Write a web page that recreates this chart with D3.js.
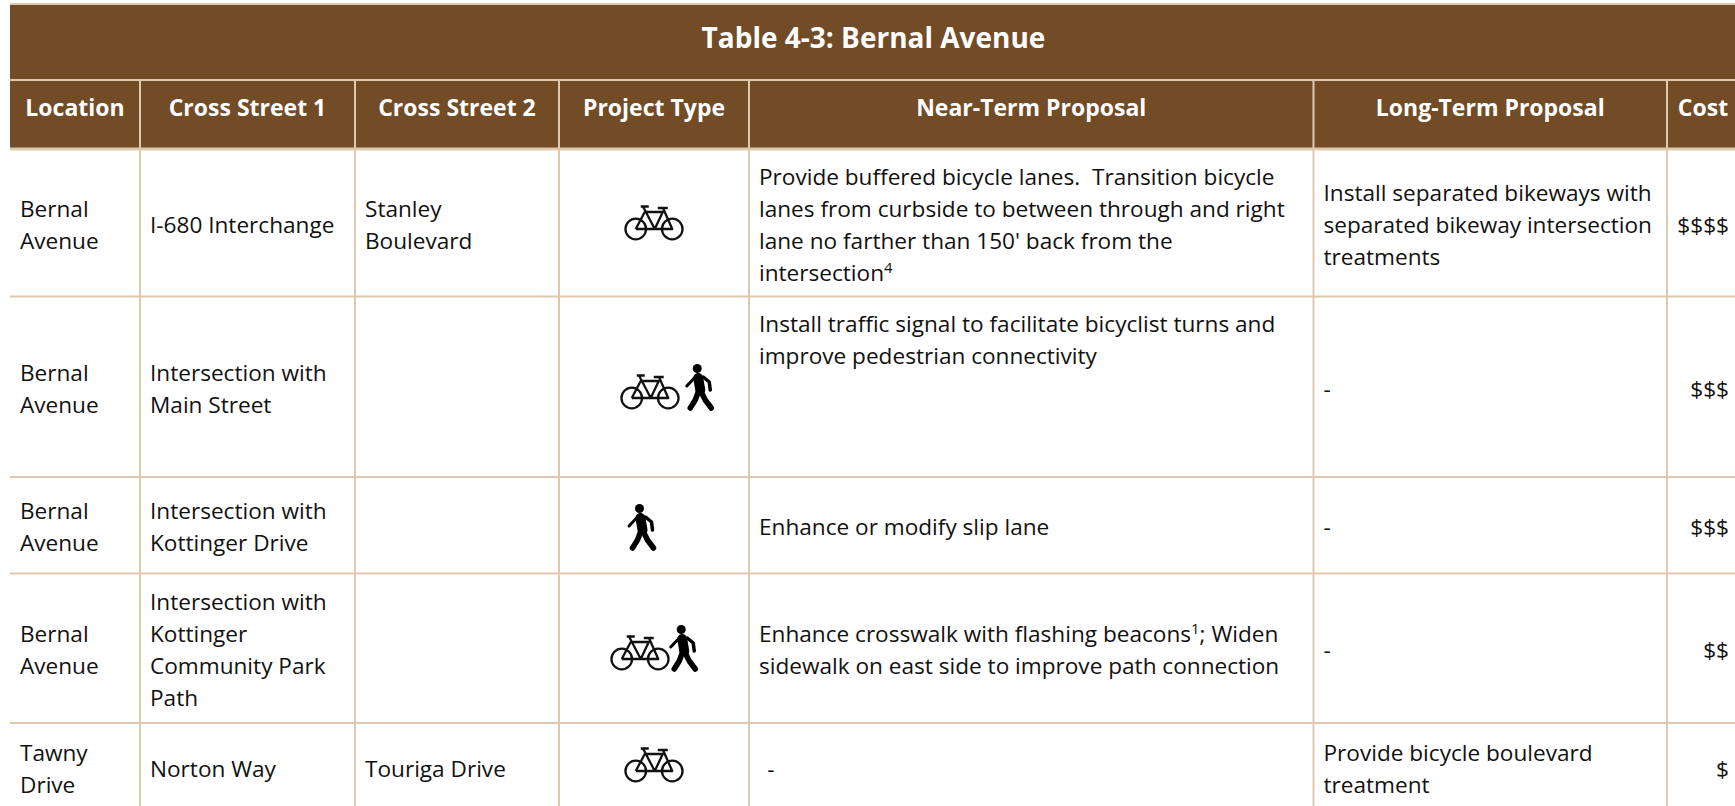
<!DOCTYPE html>
<html>
<head>
<meta charset="utf-8">
<script src="https://d3js.org/d3.v7.min.js"></script>
<style>
  html, body { margin: 0; padding: 0; background: #fff; overflow: hidden; }
  text { font-family: "Open Sans", "Noto Sans", sans-serif; }
</style>
</head>
<body>
<div id="chart"></div>
<script>
const title = 'Table 4-3: Bernal Avenue';
const headers = ['Location', 'Cross Street 1', 'Cross Street 2', 'Project Type', 'Near-Term Proposal', 'Long-Term Proposal', 'Cost'];

// one entry per row, \n = line break, ^n = superscript
const locations = ['Bernal\nAvenue', 'Bernal\nAvenue', 'Bernal\nAvenue', 'Bernal\nAvenue', 'Tawny\nDrive'];
const crossStreet1 = ['I-680 Interchange', 'Intersection with\nMain Street', 'Intersection with\nKottinger Drive', 'Intersection with\nKottinger\nCommunity Park\nPath', 'Norton Way'];
const crossStreet2 = ['Stanley\nBoulevard', '', '', '', 'Touriga Drive'];
const projectTypes = [['bike'], ['bike', 'ped'], ['ped'], ['bike', 'ped'], ['bike']];
const nearTerm = [
  "Provide buffered bicycle lanes.  Transition bicycle\nlanes from curbside to between through and right\nlane no farther than 150' back from the\nintersection^4",
  'Install traffic signal to facilitate bicyclist turns and\nimprove pedestrian connectivity',
  'Enhance or modify slip lane',
  'Enhance crosswalk with flashing beacons^1; Widen\nsidewalk on east side to improve path connection',
  '\u00a0\u200a-'
];
const longTerm = ['Install separated bikeways with\nseparated bikeway intersection\ntreatments', '-', '-', '-', 'Provide bicycle boulevard\ntreatment'];
const costs = ['$$$$', '$$$', '$$$', '$$', '$'];

// layout
const W = 1735, H = 806;
const colEdges = [10, 140, 355, 559, 749, 1313.5, 1667, 1739];
const rowEdges = [149, 296.5, 477, 573.5, 723, 810];
const titleTop = 4, titleBottom = 80;
const brown = '#724b27', rule = '#dfc9ae', ink = '#111';
const bodySize = 22.6, lineH = 32, padX = 10;
// icon group placement per row: horizontal shift from the column centre, bottom edge
const iconShift = [0, 13, -12.5, 0, 0];
const iconBottom = [241, 410, 550, 671, 783];
const iconGap = [0, 6, 0, 0, 0];

const svg = d3.select('#chart').append('svg').attr('width', W).attr('height', H).style('display', 'block');

svg.append('rect').attr('x', colEdges[0]).attr('y', titleTop).attr('width', W - colEdges[0]).attr('height', rowEdges[0] - titleTop).attr('fill', brown);

const colCentre = i => (colEdges[i] + colEdges[i + 1]) / 2;

// rules
svg.selectAll('.h-rule')
  .data([titleTop, titleBottom, ...rowEdges.slice(0, -1)])
  .enter().append('line')
  .attr('class', 'h-rule')
  .attr('x1', colEdges[0]).attr('x2', W)
  .attr('y1', d => d).attr('y2', d => d)
  .attr('stroke', rule).attr('stroke-width', (d, i) => i === 2 ? 3 : 2);

svg.selectAll('.v-rule')
  .data(colEdges.slice(1, -1))
  .enter().append('line')
  .attr('class', 'v-rule')
  .attr('x1', d => d).attr('x2', d => d)
  .attr('y1', titleBottom).attr('y2', H)
  .attr('stroke', rule).attr('stroke-width', 2);

// title + headers
svg.append('text')
  .attr('x', (colEdges[0] + W) / 2 + 1).attr('y', 48)
  .attr('text-anchor', 'middle').attr('font-size', 28).attr('font-weight', 700).attr('fill', '#fff')
  .text(title);

svg.selectAll('.head')
  .data(headers)
  .enter().append('text')
  .attr('class', 'head')
  .attr('x', (d, i) => colCentre(i)).attr('y', 116)
  .attr('text-anchor', 'middle').attr('font-size', 23).attr('font-weight', 700).attr('fill', '#fff')
  .text(d => d);

function drawCell(str, x, rowIdx, anchor, topAlign) {
  if (!str) return;
  const lines = str.split('\n');
  const rowMid = (rowEdges[rowIdx] + rowEdges[rowIdx + 1]) / 2 + 1;
  const firstMid = topAlign ? rowEdges[rowIdx] + 26.5 : rowMid - (lines.length - 1) * lineH / 2;
  lines.forEach((line, k) => {
    const t = svg.append('text')
      .attr('x', x).attr('y', firstMid + k * lineH + 9)
      .attr('text-anchor', anchor).attr('font-size', bodySize).attr('fill', ink)
      .attr('xml:space', 'preserve');
    let afterSup = false;
    line.split(/(\^\d)/).filter(s => s).forEach(part => {
      if (part[0] === '^') {
        t.append('tspan').attr('font-size', 15).attr('dy', -8).text(part.slice(1));
        afterSup = true;
      } else {
        const span = t.append('tspan').text(part);
        if (afterSup) span.attr('dy', 8);
        afterSup = false;
      }
    });
  });
}

function drawBike(g) {
  g.attr('fill', 'none').attr('stroke', '#111').attr('stroke-width', 2.3).attr('stroke-linejoin', 'round');
  g.append('circle').attr('cx', 11).attr('cy', 24).attr('r', 10.3);
  g.append('circle').attr('cx', 47.5).attr('cy', 24).attr('r', 10.3);
  g.append('path').attr('d', 'M11 24L20 7H38L30 24H47.5L38 2.5M18.5 2L30 24M11 24H30M16 1.5H24M33 3H43');
}

function drawPed(g) {
  g.attr('fill', 'none').attr('stroke', '#000').attr('stroke-linecap', 'round').attr('stroke-linejoin', 'round');
  g.append('circle').attr('cx', 12).attr('cy', 4.5).attr('r', 4.5).attr('fill', '#000').attr('stroke', 'none');
  g.append('path').attr('d', 'M13 14L15 26').attr('stroke-width', 10);
  g.append('path').attr('d', 'M11 12L1.5 22').attr('stroke-width', 3);
  g.append('path').attr('d', 'M18 13L24 18L25 26').attr('stroke-width', 3.5);
  g.append('path').attr('d', 'M13 28L10 36L5 44').attr('stroke-width', 5.5);
  g.append('path').attr('d', 'M16 28L20 36L26 44').attr('stroke-width', 5.5);
}

const iconW = { bike: 58.5, ped: 28 };
const iconH = { bike: 36, ped: 46 };
const iconDraw = { bike: drawBike, ped: drawPed };

function drawIcons(list, rowIdx) {
  const gap = iconGap[rowIdx];
  const total = d3.sum(list, d => iconW[d]) + gap * (list.length - 1);
  let x = colCentre(3) - total / 2 + iconShift[rowIdx];
  list.forEach(name => {
    const g = svg.append('g').attr('transform', `translate(${x},${iconBottom[rowIdx] - iconH[name]})`);
    iconDraw[name](g);
    x += iconW[name] + gap;
  });
}

d3.range(costs.length).forEach(r => {
  drawCell(locations[r], colEdges[0] + padX, r, 'start');
  drawCell(crossStreet1[r], colEdges[1] + padX, r, 'start');
  drawCell(crossStreet2[r], colEdges[2] + padX, r, 'start');
  drawIcons(projectTypes[r], r);
  drawCell(nearTerm[r], colEdges[4] + padX, r, 'start', r === 1);
  drawCell(longTerm[r], colEdges[5] + padX, r, 'start');
  drawCell(costs[r], 1729, r, 'end');
});
</script>
</body>
</html>
